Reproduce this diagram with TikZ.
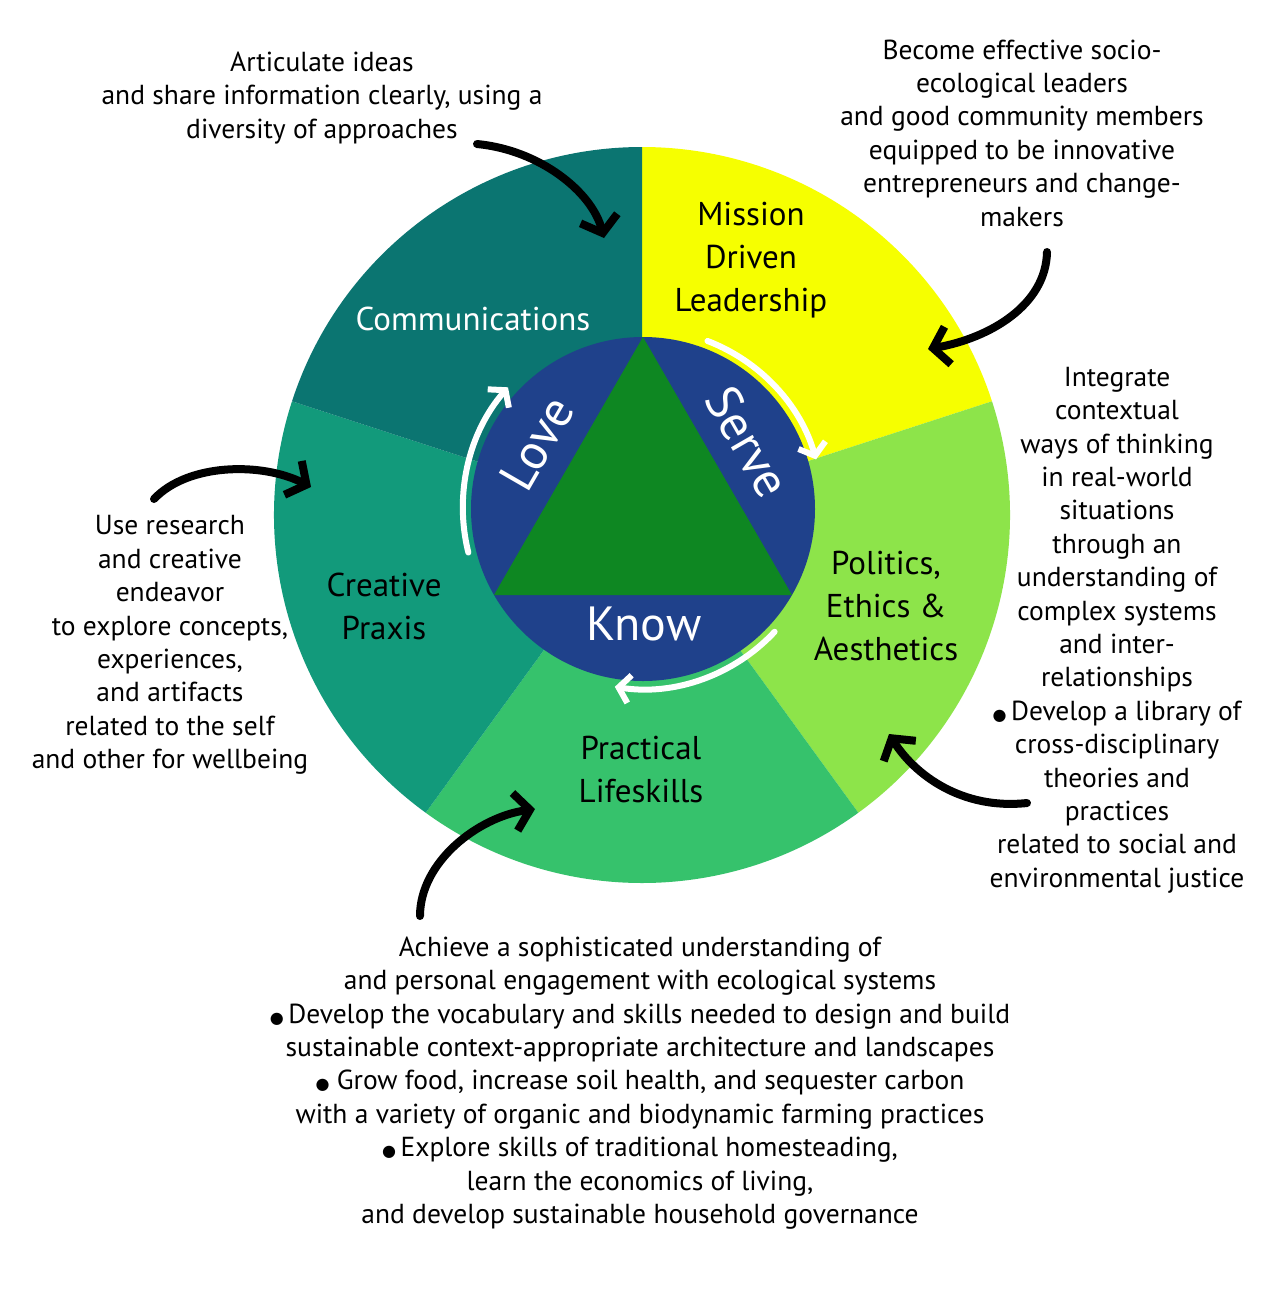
\documentclass[tikz,border=0pt]{standalone}
\usepackage{fontspec}
\setmainfont{PT Sans}
\newfontfamily\symfont{DejaVu Sans}
\usetikzlibrary{arrows.meta}
\definecolor{commcol}{HTML}{0B7571}
\definecolor{creacol}{HTML}{129A7B}
\definecolor{praccol}{HTML}{36C26C}
\definecolor{policol}{HTML}{8DE44A}
\definecolor{misscol}{HTML}{F6FF00}
\definecolor{innerblue}{HTML}{1F418B}
\definecolor{trigreen}{HTML}{0E8722}
\newcommand{\bul}{{\symfont\fontsize{16}{16}\selectfont ●}}
\begin{document}
\begin{tikzpicture}[x=1pt,y=-1pt,
  desc/.style={align=center, font=\fontsize{27.5}{33.4}\selectfont, text=black, inner sep=0pt},
  seclabel/.style={align=center, font=\fontsize{33}{43}\selectfont, inner sep=0pt},
  corelabel/.style={font=\fontsize{50}{50}\selectfont, text=white, inner sep=0pt},
  blackarrow/.style={draw=black, line width=8pt, line cap=round, -{Straight Barb[length=15pt,width=38pt]}},
  whitearrow/.style={draw=white, line width=6pt, line cap=round, -{Straight Barb[length=11pt,width=28pt]}}]
\useasboundingbox (0,0) rectangle (1282,1299);
\fill[white] (0,0) rectangle (1282,1299);
% outer pie
\coordinate (oc) at (642,515);
\coordinate (ic) at (643,509);
\fill[misscol] (oc) -- ++(-90:368) arc[start angle=-90,end angle=-18,radius=368] -- cycle;
\fill[policol] (oc) -- ++(-18:368) arc[start angle=-18,end angle=54,radius=368] -- cycle;
\fill[praccol] (oc) -- ++(54:368) arc[start angle=54,end angle=126,radius=368] -- cycle;
\fill[creacol] (oc) -- ++(126:368) arc[start angle=126,end angle=198,radius=368] -- cycle;
\fill[commcol] (oc) -- ++(198:368) arc[start angle=198,end angle=270,radius=368] -- cycle;
% inner circle and triangle
\fill[innerblue] (ic) circle[radius=172];
\fill[trigreen] (643,337) -- (494,595) -- (792,595) -- cycle;
% core labels
\node[corelabel, rotate=60] (love) at (537,443) {Love};
\node[corelabel, rotate=-60] (serve) at (748,442) {Serve};
\node[corelabel, font=\fontsize{48}{48}\selectfont] (know) at (644,624) {Know};
% white cycle arrows
\draw[whitearrow] ([shift={(-69:180)}]ic) arc[start angle=-69,end angle=-16,radius=180];
\draw[whitearrow] ([shift={(43:180)}]ic) arc[start angle=43,end angle=99,radius=180];
\draw[whitearrow] ([shift={(166:180)}]ic) arc[start angle=166,end angle=221,radius=184];
% sector labels
\node[seclabel, text=white] (comm) at (473,319) {Communications};
\node[seclabel] (miss) at (751,260) {Mission\\Driven\\Leadership};
\node[seclabel] (poli) at (886,606) {Politics,\\Ethics \&\\Aesthetics};
\node[seclabel] (crea) at (384,606) {Creative\\Praxis};
\node[seclabel] (prac) at (641,770) {Practical\\Lifeskills};
% description texts
\node[desc] (tl) at (322,98) {Articulate ideas\\and share information clearly, using a\\diversity of approaches};
\node[desc] (tr) at (1022,133) {Become effective socio-\\ecological leaders\\and good community members\\equipped to be innovative\\entrepreneurs and change-\\makers};
\node[desc] (rt) at (1117,630) {Integrate\\contextual\\ways of thinking\\in real-world\\situations\\through an\\understanding of\\complex systems\\and inter-\\relationships\\\bul\,Develop a library of\\cross-disciplinary\\theories and\\practices\\related to social and\\environmental justice};
\node[desc] (lt) at (170,645) {Use research\\and creative\\endeavor\\to explore concepts,\\experiences,\\and artifacts\\related to the self\\and other for wellbeing};
\node[desc] (bt) at (640,1083) {Achieve a sophisticated understanding of\\and personal engagement with ecological systems\\\bul\,Develop the vocabulary and skills needed to design and build\\sustainable context-appropriate architecture and landscapes\\\bul\ Grow food, increase soil health, and sequester carbon\\with a variety of organic and biodynamic farming practices\\\bul\,Explore skills of traditional homesteading,\\learn the economics of living,\\and develop sustainable household governance};
% black arrows
\coordinate (a1s) at (477,144);
\coordinate (a1e) at (604,238);
\coordinate (a2s) at (1047,252);
\coordinate (a2e) at (928,349);
\coordinate (a3s) at (1027,803);
\coordinate (a3e) at (889,734);
\coordinate (a4s) at (420,916);
\coordinate (a4e) at (535,809);
\coordinate (a5s) at (154,499);
\coordinate (a5e) at (311,487);
\draw[blackarrow] (a1s) .. controls (540,150) and (592,192) .. (a1e);
\draw[blackarrow] (a2s) .. controls (1046,305) and (990,338) .. (a2e);
\draw[blackarrow] (a3s) .. controls (962,810) and (915,775) .. (a3e);
\draw[blackarrow] (a4s) .. controls (420,862) and (478,817) .. (a4e);
\draw[blackarrow] (a5s) .. controls (188,463) and (262,462) .. (a5e);
\end{tikzpicture}
\end{document}
